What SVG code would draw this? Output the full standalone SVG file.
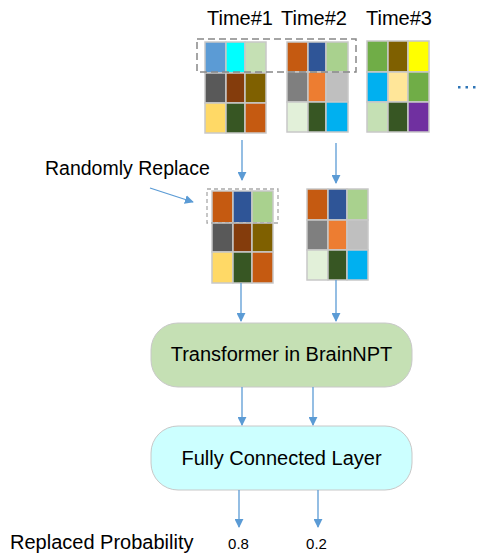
<svg xmlns="http://www.w3.org/2000/svg" width="477" height="554" viewBox="0 0 477 554">
<defs>
<marker id="ah" viewBox="0 0 10 10" refX="9" refY="5" markerWidth="9" markerHeight="9" markerUnits="userSpaceOnUse" orient="auto">
<path d="M0,0 L10,5 L0,10 z" fill="#5B9BD5"/>
</marker>
<style>
.t{font-family:"Liberation Sans",Arial,sans-serif;fill:#000}
.c{stroke:#C8C8C8;stroke-width:1.5}
.d{fill:none;stroke:#888;stroke-width:1.5;stroke-dasharray:7,4}
.d2{fill:none;stroke:#AAA;stroke-width:1.3;stroke-dasharray:4,3}
.a{stroke:#5B9BD5;stroke-width:1.3;fill:none;marker-end:url(#ah)}
</style>
</defs>
<rect width="477" height="554" fill="#fff"/>

<g id="labels-time">
<text class="t" x="207" y="25" font-size="20">Time#1</text>
<text class="t" x="281" y="25" font-size="20">Time#2</text>
<text class="t" x="366" y="25" font-size="20">Time#3</text>
</g>

<g id="grid-time1">
<rect class="c" x="205" y="42" width="21" height="31" fill="#5B9BD5"/>
<rect class="c" x="226" y="42" width="19" height="31" fill="#00FFFF"/>
<rect class="c" x="245" y="42" width="21" height="31" fill="#C5E0B4"/>
<rect class="c" x="205" y="73" width="21" height="30" fill="#595959"/>
<rect class="c" x="226" y="73" width="19" height="30" fill="#843C0C"/>
<rect class="c" x="245" y="73" width="21" height="30" fill="#7F6000"/>
<rect class="c" x="205" y="103" width="21" height="30" fill="#FFD966"/>
<rect class="c" x="226" y="103" width="19" height="30" fill="#375623"/>
<rect class="c" x="245" y="103" width="21" height="30" fill="#C55A11"/>
</g>

<g id="grid-time2">
<rect class="c" x="287" y="42" width="21" height="30" fill="#C55A11"/>
<rect class="c" x="308" y="42" width="18" height="30" fill="#2F5597"/>
<rect class="c" x="326" y="42" width="22" height="30" fill="#A9D18E"/>
<rect class="c" x="287" y="72" width="21" height="30" fill="#7F7F7F"/>
<rect class="c" x="308" y="72" width="18" height="30" fill="#ED7D31"/>
<rect class="c" x="326" y="72" width="22" height="30" fill="#BFBFBF"/>
<rect class="c" x="287" y="102" width="21" height="30" fill="#E2F0D9"/>
<rect class="c" x="308" y="102" width="18" height="30" fill="#375623"/>
<rect class="c" x="326" y="102" width="22" height="30" fill="#00B0F0"/>
</g>

<g id="grid-time3">
<rect class="c" x="367" y="41" width="21" height="31" fill="#70AD47"/>
<rect class="c" x="388" y="41" width="20" height="31" fill="#7F6000"/>
<rect class="c" x="408" y="41" width="21" height="31" fill="#FFFF00"/>
<rect class="c" x="367" y="72" width="21" height="30" fill="#00B0F0"/>
<rect class="c" x="388" y="72" width="20" height="30" fill="#FFE699"/>
<rect class="c" x="408" y="72" width="21" height="30" fill="#70AD47"/>
<rect class="c" x="367" y="102" width="21" height="30" fill="#C5E0B4"/>
<rect class="c" x="388" y="102" width="20" height="30" fill="#375623"/>
<rect class="c" x="408" y="102" width="21" height="30" fill="#7030A0"/>
</g>

<g id="dashed-top">
<rect class="d" x="197" y="39" width="159" height="33"/>
</g>

<g id="ellipsis" fill="#2E75B6">
<rect x="458" y="86" width="2.5" height="2.5"/>
<rect x="465.5" y="86" width="2.5" height="2.5"/>
<rect x="473" y="86" width="2.5" height="2.5"/>
</g>

<g id="label-replace">
<text class="t" x="45" y="175" font-size="19.5">Randomly Replace</text>
</g>

<g id="grid-replaced1">
<rect class="c" x="212" y="191" width="21" height="32" fill="#C55A11"/>
<rect class="c" x="233" y="191" width="19" height="32" fill="#2F5597"/>
<rect class="c" x="252" y="191" width="21" height="32" fill="#A9D18E"/>
<rect class="c" x="212" y="223" width="21" height="29" fill="#595959"/>
<rect class="c" x="233" y="223" width="19" height="29" fill="#843C0C"/>
<rect class="c" x="252" y="223" width="21" height="29" fill="#7F6000"/>
<rect class="c" x="212" y="252" width="21" height="31" fill="#FFD966"/>
<rect class="c" x="233" y="252" width="19" height="31" fill="#375623"/>
<rect class="c" x="252" y="252" width="21" height="31" fill="#C55A11"/>
<rect class="d2" x="207" y="189" width="71" height="34"/>
</g>

<g id="grid-replaced2">
<rect class="c" x="307" y="189" width="21" height="31" fill="#C55A11"/>
<rect class="c" x="328" y="189" width="19" height="31" fill="#2F5597"/>
<rect class="c" x="347" y="189" width="21" height="31" fill="#A9D18E"/>
<rect class="c" x="307" y="220" width="21" height="30" fill="#7F7F7F"/>
<rect class="c" x="328" y="220" width="19" height="30" fill="#ED7D31"/>
<rect class="c" x="347" y="220" width="21" height="30" fill="#BFBFBF"/>
<rect class="c" x="307" y="250" width="21" height="30" fill="#E2F0D9"/>
<rect class="c" x="328" y="250" width="19" height="30" fill="#375623"/>
<rect class="c" x="347" y="250" width="21" height="30" fill="#00B0F0"/>
</g>

<g id="transformer">
<rect x="151" y="323" width="261" height="64" rx="27" fill="#C5E0B4" stroke="#C8C8C8" stroke-width="1"/>
<text class="t" x="281.5" y="361" font-size="20" text-anchor="middle">Transformer in BrainNPT</text>
</g>

<g id="fc-layer">
<rect x="151" y="426" width="261" height="64" rx="27" fill="#CCFFFF" stroke="#C8C8C8" stroke-width="1"/>
<text class="t" x="281.5" y="465" font-size="20" text-anchor="middle">Fully Connected Layer</text>
</g>

<g id="outputs">
<text class="t" x="10" y="549" font-size="20">Replaced Probability</text>
<text class="t" x="238.5" y="549" font-size="15" text-anchor="middle">0.8</text>
<text class="t" x="316.5" y="549" font-size="15" text-anchor="middle">0.2</text>
</g>

<g id="connectors">
<line class="a" x1="242" y1="140" x2="242" y2="180"/>
<line class="a" x1="336" y1="143" x2="336" y2="183"/>
<line class="a" x1="150" y1="188" x2="193" y2="202"/>
<line class="a" x1="241" y1="283" x2="241" y2="321"/>
<line class="a" x1="336" y1="280" x2="336" y2="321"/>
<line class="a" x1="242" y1="387" x2="242" y2="425"/>
<line class="a" x1="313" y1="387" x2="313" y2="425"/>
<line class="a" x1="239" y1="490" x2="239" y2="527"/>
<line class="a" x1="318" y1="490" x2="318" y2="527"/>
</g>
</svg>
